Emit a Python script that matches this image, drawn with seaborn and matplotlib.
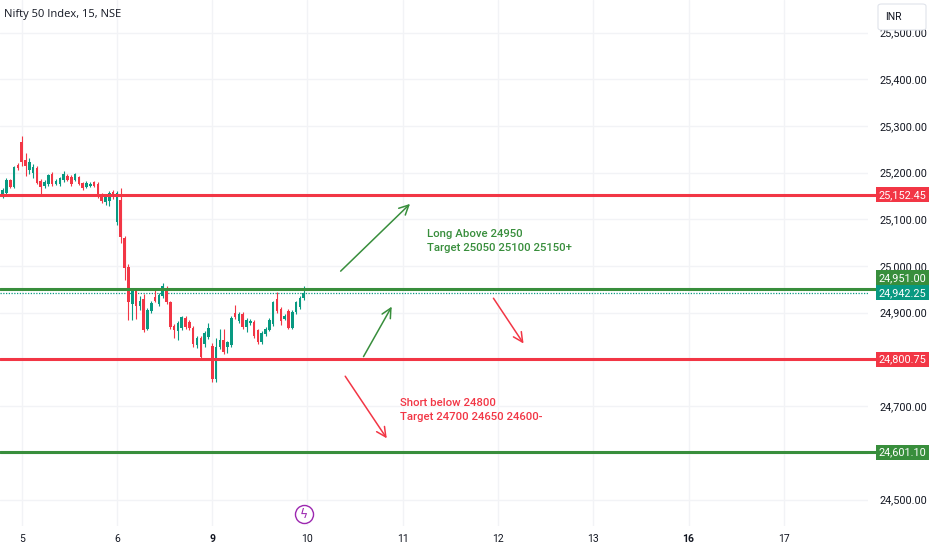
import matplotlib
matplotlib.use("Agg")
import matplotlib.pyplot as plt
import numpy as np
import pandas as pd
import seaborn as sns
from matplotlib.patches import Rectangle, FancyBboxPatch

# 15 min candles, bar 0 = first bar of day "5"
bar_index = list(range(-5, 75))
opens = [25152, 25156, 25184, 25170, 25216,
         25265, 25228, 25205, 25200, 25210, 25182, 25172, 25175, 25198, 25176,
         25176, 25184, 25192, 25190, 25184, 25190, 25178, 25170, 25172, 25180,
         25176, 25152, 25138, 25140, 25158,
         25094, 25142, 25060, 24998, 24918, 24948, 24914, 24930, 24866, 24904,
         24934, 24918, 24936, 24950, 24922, 24872, 24860, 24868, 24888, 24880,
         24868, 24830, 24846, 24832, 24848,
         24828, 24758, 24826, 24842, 24827, 24830, 24900, 24882, 24898, 24870,
         24878, 24880, 24862, 24838, 24854, 24864, 24876, 24930, 24908, 24886,
         24904, 24868, 24902, 24912, 24932]
highs = [25168, 25188, 25186, 25214, 25220,
         25278, 25242, 25232, 25218, 25214, 25186, 25184, 25198, 25202, 25186,
         25190, 25204, 25198, 25194, 25200, 25192, 25180, 25182, 25180, 25182,
         25180, 25156, 25154, 25160, 25162,
         25160, 25168, 25064, 25004, 24952, 24952, 24936, 24940, 24910, 24926,
         24950, 24942, 24964, 24958, 24926, 24876, 24882, 24894, 24892, 24884,
         24872, 24850, 24850, 24860, 24878,
         24836, 24846, 24866, 24866, 24840, 24892, 24916, 24902, 24902, 24888,
         24886, 24884, 24866, 24860, 24870, 24888, 24926, 24944, 24912, 24898,
         24908, 24906, 24926, 24936, 24958]
lows = [25145, 25150, 25166, 25168, 25206,
        25215, 25192, 25198, 25188, 25175, 25154, 25168, 25172, 25172, 25174,
        25172, 25180, 25182, 25172, 25182, 25174, 25162, 25168, 25170, 25170,
        25146, 25135, 25130, 25128, 25144,
        25088, 25050, 24970, 24884, 24884, 24886, 24906, 24858, 24862, 24900,
        24922, 24914, 24932, 24918, 24866, 24846, 24842, 24864, 24866, 24862,
        24826, 24824, 24798, 24826, 24844,
        24752, 24752, 24822, 24812, 24814, 24826, 24886, 24878, 24866, 24858,
        24874, 24846, 24834, 24834, 24850, 24860, 24872, 24900, 24874, 24884,
        24866, 24866, 24898, 24908, 24928]
closes = [25162, 25184, 25170, 25212, 25210,
          25222, 25214, 25222, 25212, 25178, 25170, 25180, 25194, 25176, 25182,
          25188, 25198, 25184, 25176, 25196, 25176, 25166, 25178, 25176, 25172,
          25150, 25140, 25150, 25156, 25148,
          25156, 25062, 24996, 24922, 24948, 24914, 24926, 24864, 24906, 24920,
          24926, 24938, 24958, 24922, 24870, 24862, 24878, 24890, 24870, 24868,
          24832, 24846, 24806, 24856, 24868,
          24758, 24826, 24842, 24816, 24838, 24888, 24890, 24898, 24870, 24884,
          24882, 24850, 24838, 24856, 24866, 24884, 24922, 24904, 24882, 24894,
          24868, 24902, 24922, 24932, 24942.25]

# time axis
day_labels = ["5", "6", "9", "10", "11", "12", "13", "16", "17"]
day_start_bar = [0, 25, 50, 75, 100, 125, 150, 175, 200]
bold_days = ["9", "16"]

# drawn levels
level_values = [25152.45, 24951.00, 24800.75, 24601.10]
level_colors = ["#F23645", "#388E3C", "#F23645", "#388E3C"]
level_labels = ["25,152.45", "24,951.00", "24,800.75", "24,601.10"]
last_price = 24942.25

# trade arrows (bar, price) -> (bar, price)
arrow_start = [(83.7, 24989), (89.7, 24806), (123.8, 24931), (84.9, 24764)]
arrow_end = [(101.9, 25133), (97.1, 24913), (131.7, 24834), (95.8, 24631)]
arrow_colors = ["#388E3C", "#388E3C", "#F23645", "#F23645"]

note_long = "Long Above 24950\nTarget 25050 25100 25150+"
note_short = "Short below 24800\nTarget 24700 24650 24600-"

df = pd.DataFrame({"bar": bar_index, "open": opens, "high": highs,
                   "low": lows, "close": closes})
df["up"] = df["close"] >= df["open"]

sns.set_theme(style="white")
plt.rcParams['font.family'] = ['Roboto', 'DejaVu Sans']

UP, DOWN = "#089981", "#F23645"
TXT = "#131722"

W, H = 932, 550
fig = plt.figure(figsize=(W / 100, H / 100), dpi=100)
ax = fig.add_axes([0, 24 / H, 868 / W, 526 / H])
ax.set_xlim(-5.7, 222.1)
ax.set_ylim(24443.3, 25569.6)

cols = np.where(df["up"], UP, DOWN)
ax.vlines(df["bar"], df["low"], df["high"], colors=cols, lw=0.8, zorder=3)
body_lo = df[["open", "close"]].min(axis=1)
body_h = (df["close"] - df["open"]).abs().clip(lower=1.5)
ax.bar(df["bar"], body_h, bottom=body_lo, width=0.68, color=cols,
       linewidth=0, zorder=4)

for v, c in zip(level_values, level_colors):
    ax.axhline(v, xmin=0, xmax=876 / 868, color=c, lw=2.2, zorder=5,
               clip_on=False)
ax.axhline(last_price, color=UP, lw=0.9, ls=(0, (1, 1.2)), zorder=2)

for (x0, y0), (x1, y1), c in zip(arrow_start, arrow_end, arrow_colors):
    ax.annotate("", xy=(x1, y1), xytext=(x0, y0),
                arrowprops=dict(arrowstyle="->", color=c, lw=1.1,
                                mutation_scale=17, shrinkA=0, shrinkB=0),
                zorder=6)

ax.text(106.3, 25079, note_long, color="#388E3C", fontsize=8.2, va="top",
        ha="left", linespacing=1.45, fontweight="medium", zorder=6)
ax.text(99.3, 24717, note_short, color="#F23645", fontsize=8.2, va="top",
        ha="left", linespacing=1.45, fontweight="medium", zorder=6)

# axes, grid
ax.set_xticks(day_start_bar)
ax.set_xticklabels(day_labels)
for t in ax.get_xticklabels():
    if t.get_text() in bold_days:
        t.set_fontweight("bold")
ax.tick_params(axis="x", length=0, pad=5.5, labelsize=7.5, colors=TXT)

ax.yaxis.tick_right()
yt = list(range(24500, 25600, 100))
ax.set_yticks(yt)
ax.set_yticklabels(["" if v in (24600, 24800) else f"{v:,.2f}" for v in yt])
ax.tick_params(axis="y", length=0, pad=8.5, labelsize=7.8, colors=TXT)
ax.grid(True, color="#F2F3F6", lw=1)
for s in ax.spines.values():
    s.set_visible(False)

inv = fig.transFigure.inverted()


def price_tag(value, text, color, shift_px=0.0):
    yd = ax.transData.transform((0, value))[1] + shift_px
    fx0, fy0 = inv.transform((876, yd - 7.5))
    fx1, fy1 = inv.transform((929, yd + 7.5))
    fig.patches.append(Rectangle((fx0, fy0), fx1 - fx0, fy1 - fy0,
                                 transform=fig.transFigure, fc=color,
                                 ec="none", zorder=5))
    fig.text((fx0 + fx1) / 2, (fy0 + fy1) / 2, text, color="white",
             ha="center", va="center", fontsize=7.8, zorder=6)


shifts = [0, 11, 0, 0]
for v, c, lab, sh in zip(level_values, level_colors, level_labels, shifts):
    price_tag(v, lab, c, sh)
price_tag(last_price, f"{last_price:,.2f}", UP, 0)

# currency box over the top of the price scale
fig.patches.append(FancyBboxPatch((878 / W, 1 - 30 / H), 48 / W, 26 / H,
                                  boxstyle="round,pad=0,rounding_size=0.004",
                                  transform=fig.transFigure, fc="white",
                                  ec="#E0E3EB", lw=0.8, zorder=7))
fig.text(885 / W, 1 - 16.5 / H, "INR", fontsize=7.5, color=TXT,
         va="center", ha="left", zorder=8)

fig.text(4 / W, 1 - 14 / H, "Nifty 50 Index, 15, NSE", fontsize=8,
         color=TXT, va="center", ha="left", family=["Open Sans", "DejaVu Sans"])

# events marker on the time scale
ax.plot([304 / 868], [12 / 526], marker="o", ms=13, mfc="white",
        mec="#9C27B0", mew=1, transform=ax.transAxes, clip_on=False,
        zorder=7)
ax.text(304 / 868, 12 / 526, "ϟ", color="#9C27B0", fontsize=9,
        ha="center", va="center", transform=ax.transAxes, zorder=8,
        family=["DejaVu Sans"])

fig.savefig("out.png", dpi=100, facecolor="white")
